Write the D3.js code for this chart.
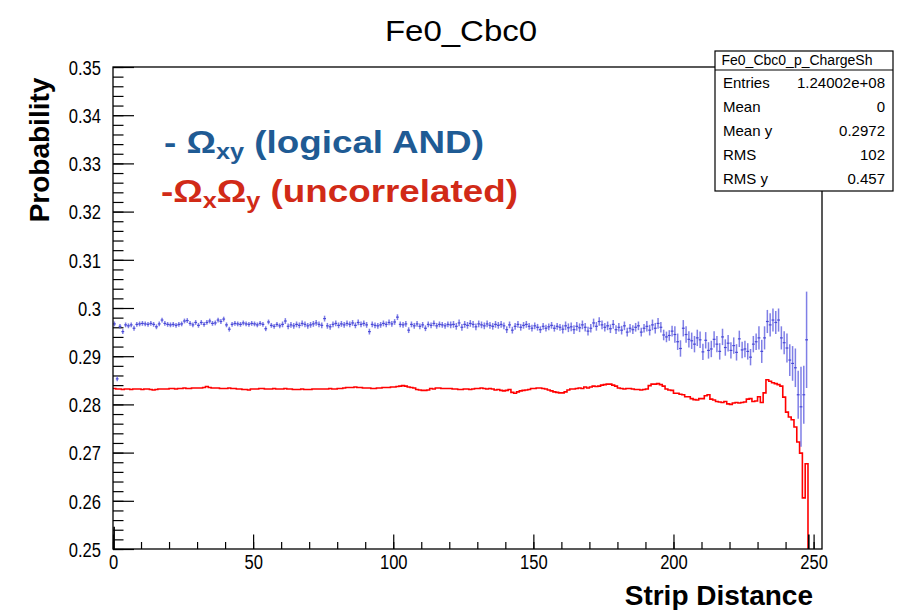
<!DOCTYPE html>
<html>
<head>
<meta charset="utf-8">
<script src="https://cdn.jsdelivr.net/npm/d3@7"></script>
<style>
body { margin: 0; background: #fff; }
svg { font-family: "Liberation Sans", Arial, Helvetica, sans-serif; }
</style>
</head>
<body>
<svg id="chart" width="908" height="610"></svg>
<script>
// Omega_xy (logical AND), one point per strip-distance bin
var blueVals = [
0.2967,0.2853,0.2962,0.2951,0.2965,0.2963,0.2965,0.2958,0.2966,0.2967,
0.2968,0.2967,0.2966,0.2968,0.2966,0.2961,0.2967,0.2975,0.2968,0.2966,
0.2965,0.2966,0.2964,0.2966,0.2967,0.2973,0.2974,0.2968,0.2965,0.2970,
0.2964,0.2970,0.2966,0.2970,0.2973,0.2968,0.2969,0.2975,0.2972,0.2977,
0.2965,0.2956,0.2966,0.2968,0.2967,0.2966,0.2969,0.2967,0.2966,0.2968,
0.2967,0.2965,0.2968,0.2966,0.2957,0.2971,0.2964,0.2962,0.2966,0.2963,
0.2966,0.2973,0.2962,0.2965,0.2963,0.2966,0.2964,0.2968,0.2966,0.2963,
0.2965,0.2967,0.2969,0.2966,0.2964,0.2978,0.2963,0.2961,0.2966,0.2968,
0.2964,0.2967,0.2965,0.2968,0.2966,0.2969,0.2964,0.2970,0.2966,0.2968,
0.2965,0.2951,0.2966,0.2964,0.2963,0.2965,0.2968,0.2966,0.2970,0.2967,
0.2971,0.2981,0.2966,0.2965,0.2967,0.2954,0.2966,0.2963,0.2967,0.2962,
0.2965,0.2958,0.2966,0.2964,0.2968,0.2963,0.2966,0.2965,0.2963,0.2966,
0.2965,0.2966,0.2962,0.2969,0.2960,0.2966,0.2964,0.2968,0.2966,0.2961,
0.2967,0.2965,0.2963,0.2967,0.2964,0.2962,0.2966,0.2964,0.2966,0.2963,
0.2955,0.2965,0.2954,0.2962,0.2966,0.2960,0.2964,0.2966,0.2962,0.2958,
0.2963,0.2960,0.2955,0.2962,0.2958,0.2961,0.2964,0.2958,0.2962,0.2960,
0.2956,0.2963,0.2959,0.2961,0.2955,0.2962,0.2959,0.2965,0.2960,0.2952,
0.2958,0.2969,0.2962,0.2972,0.2965,0.2960,0.2963,0.2957,0.2966,0.2955,
0.2960,0.2954,0.2963,0.2950,0.2958,0.2955,0.2960,0.2963,0.2950,0.2958,
0.2962,0.2954,0.2965,0.2958,0.2968,0.2960,0.2944,0.2940,0.2943,0.2952,
0.2945,0.2930,0.2916,0.2958,0.2945,0.2935,0.2932,0.2925,0.2938,0.2934,
0.2909,0.2933,0.2912,0.2915,0.2935,0.2925,0.2910,0.2940,0.2918,0.2927,
0.2912,0.2922,0.2908,0.2936,0.2913,0.2915,0.2910,0.2898,0.2925,0.2930,
0.2938,0.2910,0.2938,0.2972,0.2965,0.2975,0.2970,0.2975,0.2938,0.2928,
0.2917,0.2892,0.2885,0.2876,0.2820,0.2795,0.2820,0.2934
];

var blueErr = [
0.0005,0.0005,0.0005,0.0005,0.0005,0.0005,0.0005,0.0005,0.0005,0.0005,
0.0005,0.0005,0.0005,0.0005,0.0005,0.0005,0.0005,0.0005,0.0005,0.0005,
0.0005,0.0005,0.0005,0.0005,0.0005,0.0005,0.0005,0.0005,0.0005,0.0005,
0.0005,0.0005,0.0005,0.0005,0.0005,0.0005,0.0005,0.0005,0.0005,0.0005,
0.0005,0.0005,0.0005,0.0005,0.0005,0.0005,0.0005,0.0005,0.0005,0.0005,
0.0005,0.0005,0.0005,0.0005,0.0005,0.0005,0.0005,0.0005,0.0005,0.0005,
0.0006,0.0006,0.0006,0.0006,0.0006,0.0006,0.0006,0.0006,0.0006,0.0006,
0.0006,0.0006,0.0006,0.0006,0.0006,0.0006,0.0006,0.0006,0.0006,0.0006,
0.0006,0.0006,0.0006,0.0006,0.0006,0.0006,0.0006,0.0006,0.0006,0.0006,
0.0006,0.0006,0.0006,0.0006,0.0006,0.0006,0.0006,0.0006,0.0006,0.0006,
0.0006,0.0006,0.0006,0.0006,0.0006,0.0006,0.0006,0.0006,0.0006,0.0006,
0.0006,0.0006,0.0006,0.0006,0.0006,0.0006,0.0006,0.0006,0.0006,0.0006,
0.0007,0.0007,0.0007,0.0007,0.0007,0.0007,0.0007,0.0007,0.0007,0.0007,
0.0007,0.0007,0.0007,0.0007,0.0007,0.0007,0.0007,0.0007,0.0007,0.0007,
0.0007,0.0007,0.0007,0.0007,0.0007,0.0007,0.0007,0.0007,0.0007,0.0007,
0.0007,0.0007,0.0007,0.0007,0.0007,0.0007,0.0007,0.0007,0.0007,0.0007,
0.0009,0.0009,0.0009,0.0009,0.0009,0.0009,0.0009,0.0009,0.0009,0.0009,
0.0009,0.0009,0.0009,0.0009,0.0009,0.0009,0.0009,0.0009,0.0009,0.0009,
0.0009,0.0009,0.0009,0.0009,0.0009,0.0009,0.0009,0.0009,0.0009,0.0009,
0.0011,0.0011,0.0011,0.0011,0.0011,0.0011,0.0011,0.0011,0.0011,0.0011,
0.0017,0.0017,0.0017,0.0017,0.0017,0.0017,0.0017,0.0017,0.0017,0.0017,
0.0017,0.0017,0.0017,0.0017,0.0017,0.0017,0.0017,0.0017,0.0017,0.0017,
0.0017,0.0017,0.0017,0.0017,0.0017,0.0017,0.0017,0.0017,0.0017,0.0017,
0.0024,0.0024,0.0024,0.0024,0.0024,0.0024,0.0024,0.0024,0.0024,0.0024,
0.0030,0.0033,0.0036,0.0040,0.0050,0.0083,0.0060,0.0100
];

// Omega_x * Omega_y (uncorrelated), histogram bin contents
var redVals = [
0.2833,0.2832,0.2832,0.2831,0.2832,0.2832,0.2831,0.2832,0.2832,0.2832,
0.2831,0.2832,0.2832,0.2831,0.2830,0.2831,0.2832,0.2832,0.2832,0.2832,
0.2833,0.2833,0.2832,0.2833,0.2833,0.2834,0.2833,0.2833,0.2834,0.2834,
0.2834,0.2834,0.2835,0.2837,0.2835,0.2834,0.2834,0.2834,0.2833,0.2833,
0.2833,0.2834,0.2833,0.2833,0.2832,0.2832,0.2831,0.2831,0.2830,0.2832,
0.2832,0.2832,0.2833,0.2833,0.2832,0.2832,0.2832,0.2833,0.2832,0.2832,
0.2832,0.2833,0.2832,0.2832,0.2831,0.2831,0.2831,0.2832,0.2831,0.2831,
0.2831,0.2832,0.2832,0.2832,0.2832,0.2832,0.2832,0.2833,0.2832,0.2832,
0.2833,0.2833,0.2834,0.2835,0.2835,0.2835,0.2836,0.2835,0.2835,0.2834,
0.2834,0.2834,0.2833,0.2833,0.2834,0.2834,0.2835,0.2835,0.2835,0.2836,
0.2836,0.2837,0.2838,0.2839,0.2838,0.2836,0.2835,0.2834,0.2831,0.2830,
0.2829,0.2829,0.2830,0.2833,0.2832,0.2834,0.2834,0.2833,0.2833,0.2833,
0.2833,0.2832,0.2832,0.2831,0.2831,0.2832,0.2832,0.2831,0.2832,0.2833,
0.2833,0.2834,0.2833,0.2832,0.2833,0.2832,0.2830,0.2831,0.2829,0.2828,
0.2829,0.2831,0.2825,0.2823,0.2826,0.2828,0.2829,0.2830,0.2831,0.2833,
0.2833,0.2834,0.2834,0.2833,0.2832,0.2830,0.2828,0.2826,0.2825,0.2824,
0.2824,0.2826,0.2830,0.2832,0.2832,0.2833,0.2834,0.2833,0.2836,0.2834,
0.2836,0.2838,0.2837,0.2838,0.2840,0.2841,0.2842,0.2842,0.2840,0.2838,
0.2834,0.2833,0.2832,0.2833,0.2833,0.2832,0.2831,0.2831,0.2830,0.2831,
0.2832,0.2839,0.2842,0.2842,0.2843,0.2841,0.2838,0.2832,0.2830,0.2829,
0.2823,0.2823,0.2821,0.2820,0.2816,0.2816,0.2812,0.2810,0.2809,0.2812,
0.2812,0.2818,0.2820,0.2811,0.2809,0.2806,0.2805,0.2804,0.2806,0.2801,
0.2800,0.2803,0.2804,0.2803,0.2804,0.2805,0.2811,0.2812,0.2806,0.2807,
0.2816,0.2804,0.2824,0.2851,0.2848,0.2845,0.2843,0.2841,0.2838,0.2815,
0.2784,0.2774,0.2768,0.2753,0.2722,0.2699,0.2606,0.2677
];

// two short dark marks sitting on the x axis
var edgeX = [0.4, 248.3];
var edgeTop = [0.2546, 0.2530];

var xTicks = [0, 50, 100, 150, 200, 250];
var xTickLabels = ["0", "50", "100", "150", "200", "250"];
var yTicks = [0.25, 0.26, 0.27, 0.28, 0.29, 0.30, 0.31, 0.32, 0.33, 0.34, 0.35];
var yTickLabels = ["0.25", "0.26", "0.27", "0.28", "0.29", "0.3", "0.31", "0.32", "0.33", "0.34", "0.35"];

var statTitle = "Fe0_Cbc0_p_ChargeSh";
var statNames = ["Entries", "Mean", "Mean y", "RMS", "RMS y"];
var statValues = ["1.24002e+08", "0", "0.2972", "102", "0.457"];

var svg = d3.select("#chart");
var padL = 113, padR = 822, padT = 67, padB = 549;

var x = d3.scaleLinear().domain([0, 253]).range([padL, padR]);
var y = d3.scaleLinear().domain([0.25, 0.35]).range([padB, padT]);

svg.append("defs").append("clipPath").attr("id", "plotclip")
  .append("rect").attr("x", padL).attr("y", padT)
  .attr("width", padR - padL).attr("height", padB - padT);

// title
svg.append("text")
  .attr("transform", "translate(461,41) scale(1.1,1)")
  .attr("text-anchor", "middle")
  .attr("font-size", 30)
  .text("Fe0_Cbc0");

// minor ticks
svg.append("g")
  .attr("transform", "translate(" + padL + ",0)")
  .call(d3.axisLeft(y).tickValues(d3.range(0.25, 0.3501, 0.002)).tickSize(-10.5).tickFormat(""))
  .call(function(g) { g.select(".domain").remove(); })
  .selectAll("line").attr("stroke", "#000").attr("stroke-width", 1.2);

svg.append("g")
  .attr("transform", "translate(0," + padB + ")")
  .call(d3.axisBottom(x).tickValues(d3.range(0, 254, 10)).tickSize(-7).tickFormat(""))
  .call(function(g) { g.select(".domain").remove(); })
  .selectAll("line").attr("stroke", "#000").attr("stroke-width", 1.2);

// major ticks with labels
var yAxis = svg.append("g")
  .attr("transform", "translate(" + padL + ",0)")
  .call(d3.axisLeft(y).tickValues(yTicks).tickSize(-21).tickPadding(0)
    .tickFormat(function(d, i) { return yTickLabels[i]; }));
yAxis.select(".domain").remove();
yAxis.selectAll("line").attr("stroke", "#000").attr("stroke-width", 1.2);
yAxis.selectAll("text")
  .attr("x", null)
  .attr("transform", "translate(-12,1) scale(0.85,1)")
  .attr("font-size", 19.5).attr("fill", "#000")
  .attr("font-family", "Liberation Sans, Arial, sans-serif");

var xAxis = svg.append("g")
  .attr("transform", "translate(0," + padB + ")")
  .call(d3.axisBottom(x).tickValues(xTicks).tickSize(-14.5).tickPadding(0)
    .tickFormat(function(d, i) { return xTickLabels[i]; }));
xAxis.select(".domain").remove();
xAxis.selectAll("line").attr("stroke", "#000").attr("stroke-width", 1.2);
xAxis.selectAll("text")
  .attr("y", null)
  .attr("transform", "translate(0,6) scale(0.85,1)")
  .attr("font-size", 19.5).attr("fill", "#000")
  .attr("font-family", "Liberation Sans, Arial, sans-serif");

// axis titles
svg.append("text")
  .attr("transform", "translate(49,150) rotate(-90)")
  .attr("text-anchor", "middle")
  .attr("font-size", 28).attr("font-weight", "bold")
  .text("Probability");

svg.append("text")
  .attr("x", 813).attr("y", 605)
  .attr("text-anchor", "end")
  .attr("font-size", 28).attr("font-weight", "bold")
  .text("Strip Distance");

var plot = svg.append("g").attr("clip-path", "url(#plotclip)");

// red histogram as a step line
var redPts = redVals.map(function(v, i) { return [i, v]; });
redPts.push([redVals.length, redVals[redVals.length - 1]]);
redPts.push([redVals.length, 0.24]);
var step = d3.line()
  .x(function(d) { return x(d[0]); })
  .y(function(d) { return y(d[1]); })
  .curve(d3.curveStepAfter);
plot.append("path")
  .attr("d", step(redPts))
  .attr("fill", "none")
  .attr("stroke", "#ff0000")
  .attr("stroke-width", 1.6);

// blue points with error bars
var pts = plot.append("g").selectAll("g")
  .data(blueVals)
  .enter().append("g");
pts.append("line")
  .attr("x1", function(d, i) { return x(i + 0.5); })
  .attr("x2", function(d, i) { return x(i + 0.5); })
  .attr("y1", function(d, i) { return y(d - blueErr[i]); })
  .attr("y2", function(d, i) { return y(d + blueErr[i]); })
  .attr("stroke", "#5f5fe0").attr("stroke-opacity", 0.8)
  .attr("stroke-width", 1.5);
pts.append("line")
  .attr("x1", function(d, i) { return x(i); })
  .attr("x2", function(d, i) { return x(i + 1); })
  .attr("y1", function(d) { return y(d); })
  .attr("y2", function(d) { return y(d); })
  .attr("stroke", "#4848d8")
  .attr("stroke-width", 1.2);

// short dark marks on the axis
plot.append("g").selectAll("line")
  .data(edgeX)
  .enter().append("line")
  .attr("x1", function(d) { return x(d); })
  .attr("x2", function(d) { return x(d); })
  .attr("y1", y(0.25))
  .attr("y2", function(d, i) { return y(edgeTop[i]); })
  .attr("stroke", "#000").attr("stroke-width", 1.6);

// frame
svg.append("rect")
  .attr("x", padL).attr("y", padT)
  .attr("width", padR - padL).attr("height", padB - padT)
  .attr("fill", "none").attr("stroke", "#000").attr("stroke-width", 1.3);

// legend text, drawn a little wider than the font
var leg1 = svg.append("text")
  .attr("transform", "translate(164,153) scale(1.15,1)")
  .attr("font-size", 32).attr("font-weight", "bold")
  .attr("fill", "#1f5b94");
leg1.append("tspan").text("- \u03A9");
leg1.append("tspan").attr("font-size", 22).attr("dy", 6).text("xy");
leg1.append("tspan").attr("dy", -6).text(" (logical AND)");

var leg2 = svg.append("text")
  .attr("transform", "translate(161,202) scale(1.15,1)")
  .attr("font-size", 32).attr("font-weight", "bold")
  .attr("fill", "#d12a17");
leg2.append("tspan").text("-\u03A9");
leg2.append("tspan").attr("font-size", 22).attr("dy", 6).text("x");
leg2.append("tspan").attr("dy", -6).text("\u03A9");
leg2.append("tspan").attr("font-size", 22).attr("dy", 6).text("y");
leg2.append("tspan").attr("dy", -6).text(" (uncorrelated)");

// stats box
var box = svg.append("g");
box.append("rect")
  .attr("x", 715).attr("y", 51).attr("width", 178).attr("height", 140)
  .attr("fill", "#fff").attr("stroke", "#000").attr("stroke-width", 1.2);
box.append("line")
  .attr("x1", 715).attr("x2", 893).attr("y1", 70).attr("y2", 70)
  .attr("stroke", "#000").attr("stroke-width", 1.2);
box.append("text")
  .attr("x", 797).attr("y", 65)
  .attr("text-anchor", "middle").attr("font-size", 14)
  .text(statTitle);
statNames.forEach(function(n, i) {
  box.append("text")
    .attr("x", 723).attr("y", 88 + i * 24)
    .attr("font-size", 15)
    .text(n);
  box.append("text")
    .attr("x", 885).attr("y", 88 + i * 24)
    .attr("text-anchor", "end").attr("font-size", 15)
    .text(statValues[i]);
});
</script>
</body>
</html>
